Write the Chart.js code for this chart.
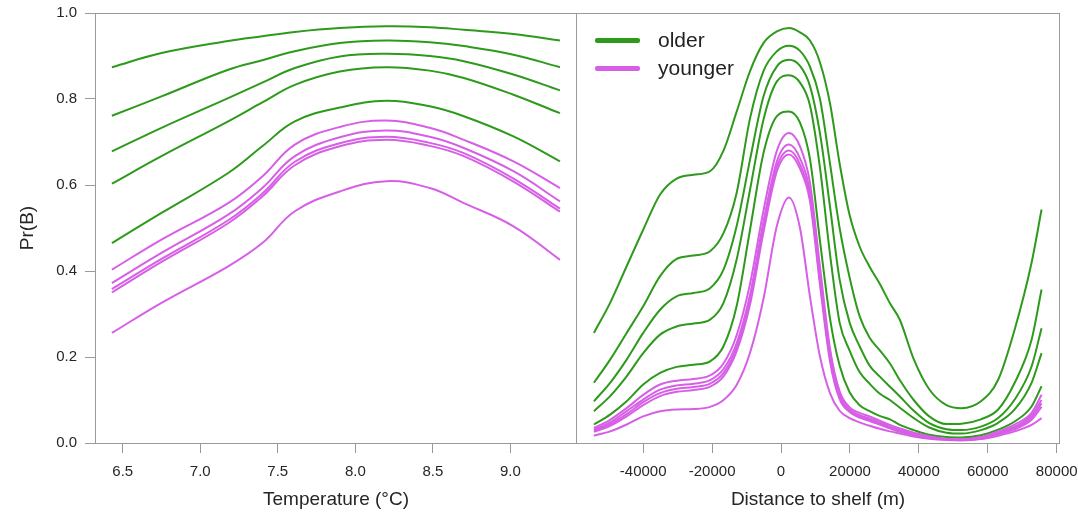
<!DOCTYPE html>
<html>
<head>
<meta charset="utf-8">
<script src="https://cdn.jsdelivr.net/npm/chart.js@4.4.1/dist/chart.umd.min.js"></script>
<style>
  body { margin: 0; background: #fff; font-family: 'Liberation Sans', Arial, sans-serif; }
  #wrap { position: relative; width: 1078px; height: 518px; }
  #c1 { position: absolute; left: 0; top: 0; }
  #c2 { position: absolute; left: 576px; top: 0; }
  #legend { position: absolute; left: 595px; top: 26px; font-size: 21px; color: #222; }
  .row { display: flex; align-items: center; height: 28px; }
  .swatch { width: 45px; height: 5px; border-radius: 2px; margin-right: 18px; }
</style>
</head>
<body>
<div id="wrap">
  <canvas id="c1" width="580" height="518"></canvas>
  <canvas id="c2" width="502" height="518"></canvas>
  <div id="legend"></div>
</div>
<script>
// Dados
const groups = ['older', 'younger'];
const groupColors = ['#2e9a1c', '#d65fe6'];

// marcas dos eixos
const probTicks = [0, 0.2, 0.4, 0.6, 0.8, 1.0];
const tempTicks = [6.5, 7.0, 7.5, 8.0, 8.5, 9.0];
const distTicks = [-40000, -20000, 0, 20000, 40000, 60000, 80000];

// painel esquerdo: temperatura
const tempX = [6.43, 6.75, 7.18, 7.4, 7.61, 7.9, 8.2, 8.48, 8.7, 9.02, 9.32];
const olderTemp = [
  [0.874, 0.907, 0.935, 0.946, 0.956, 0.965, 0.969, 0.967, 0.961, 0.951, 0.936],
  [0.761, 0.806, 0.868, 0.890, 0.911, 0.930, 0.936, 0.932, 0.923, 0.903, 0.874],
  [0.678, 0.733, 0.802, 0.838, 0.872, 0.899, 0.905, 0.900, 0.888, 0.857, 0.820],
  [0.603, 0.667, 0.748, 0.792, 0.833, 0.864, 0.874, 0.866, 0.849, 0.810, 0.767],
  [0.465, 0.535, 0.628, 0.690, 0.748, 0.780, 0.796, 0.783, 0.760, 0.713, 0.655]
];
const youngerTemp = [
  [0.403, 0.473, 0.558, 0.620, 0.694, 0.735, 0.750, 0.733, 0.705, 0.655, 0.593],
  [0.372, 0.442, 0.531, 0.593, 0.667, 0.711, 0.727, 0.712, 0.686, 0.632, 0.562],
  [0.358, 0.428, 0.518, 0.580, 0.654, 0.697, 0.712, 0.698, 0.674, 0.615, 0.545],
  [0.350, 0.421, 0.511, 0.573, 0.646, 0.690, 0.705, 0.691, 0.667, 0.608, 0.538],
  [0.256, 0.326, 0.411, 0.465, 0.539, 0.585, 0.609, 0.593, 0.558, 0.504, 0.426]
];

// painel direito: distância à plataforma
const distX = [-54300, -49600, -44800, -40000, -35100, -30300, -25400, -20600, -16700, -12900,
  -9000, -5100, -1200, 2300, 5500, 8400, 11300, 14200, 17000, 19900,
  22800, 25700, 28600, 31600, 34500, 38500, 43000, 48000, 52400, 58000,
  63000, 67800, 72700, 75600];
const olderDist = [
  [0.256, 0.326, 0.411, 0.496, 0.578, 0.615, 0.624, 0.632, 0.680, 0.770,
   0.865, 0.930, 0.957, 0.965, 0.955, 0.936, 0.885, 0.790, 0.650, 0.530,
   0.457, 0.410, 0.371, 0.325, 0.286, 0.195, 0.125, 0.088, 0.081, 0.097,
   0.147, 0.264, 0.419, 0.543],
  [0.140, 0.194, 0.256, 0.318, 0.388, 0.428, 0.436, 0.446, 0.488, 0.581,
   0.755, 0.865, 0.911, 0.924, 0.912, 0.875, 0.800, 0.650, 0.500, 0.385,
   0.295, 0.245, 0.216, 0.185, 0.146, 0.100, 0.062, 0.044, 0.045, 0.055,
   0.078, 0.140, 0.240, 0.357],
  [0.097, 0.140, 0.194, 0.256, 0.310, 0.341, 0.349, 0.360, 0.403, 0.504,
   0.659, 0.806, 0.876, 0.891, 0.877, 0.830, 0.720, 0.550, 0.380, 0.280,
   0.225, 0.180, 0.155, 0.131, 0.108, 0.075, 0.046, 0.032, 0.030, 0.038,
   0.058, 0.101, 0.178, 0.267],
  [0.074, 0.109, 0.155, 0.209, 0.252, 0.271, 0.278, 0.287, 0.326, 0.426,
   0.589, 0.752, 0.841, 0.855, 0.838, 0.785, 0.640, 0.440, 0.280, 0.215,
   0.165, 0.138, 0.115, 0.100, 0.082, 0.058, 0.036, 0.024, 0.022, 0.030,
   0.047, 0.078, 0.140, 0.209],
  [0.043, 0.066, 0.097, 0.136, 0.163, 0.177, 0.182, 0.190, 0.225, 0.318,
   0.496, 0.674, 0.760, 0.771, 0.745, 0.660, 0.470, 0.290, 0.180, 0.118,
   0.088, 0.074, 0.063, 0.055, 0.042, 0.030, 0.019, 0.014, 0.013, 0.018,
   0.031, 0.050, 0.085, 0.132]
];
const youngerDist = [
  [0.035, 0.054, 0.081, 0.112, 0.136, 0.145, 0.149, 0.157, 0.185, 0.250,
   0.370, 0.540, 0.680, 0.721, 0.690, 0.605, 0.410, 0.220, 0.120, 0.083,
   0.070, 0.062, 0.052, 0.042, 0.034, 0.024, 0.016, 0.010, 0.009, 0.014,
   0.027, 0.043, 0.070, 0.112],
  [0.031, 0.048, 0.074, 0.101, 0.124, 0.134, 0.138, 0.146, 0.172, 0.232,
   0.345, 0.515, 0.655, 0.694, 0.662, 0.585, 0.390, 0.205, 0.112, 0.078,
   0.065, 0.057, 0.048, 0.038, 0.030, 0.021, 0.014, 0.009, 0.008, 0.012,
   0.024, 0.038, 0.064, 0.100],
  [0.029, 0.044, 0.067, 0.095, 0.116, 0.126, 0.130, 0.138, 0.163, 0.222,
   0.333, 0.502, 0.642, 0.680, 0.648, 0.572, 0.378, 0.198, 0.107, 0.075,
   0.062, 0.054, 0.045, 0.036, 0.028, 0.020, 0.013, 0.008, 0.007, 0.011,
   0.022, 0.035, 0.059, 0.092],
  [0.026, 0.040, 0.062, 0.088, 0.109, 0.119, 0.123, 0.131, 0.155, 0.213,
   0.322, 0.490, 0.632, 0.671, 0.638, 0.562, 0.368, 0.190, 0.102, 0.072,
   0.059, 0.051, 0.043, 0.034, 0.026, 0.018, 0.012, 0.008, 0.007, 0.010,
   0.020, 0.032, 0.054, 0.084],
  [0.017, 0.027, 0.043, 0.062, 0.074, 0.078, 0.079, 0.084, 0.100, 0.135,
   0.210, 0.335, 0.505, 0.571, 0.500, 0.340, 0.201, 0.116, 0.075, 0.058,
   0.048, 0.040, 0.033, 0.027, 0.022, 0.015, 0.010, 0.007, 0.006, 0.009,
   0.017, 0.027, 0.042, 0.058]
];

const frameColor = '#9a9a9a';
const textColor = '#262626';
const fontFamily = "'Liberation Sans', Arial, sans-serif";

// moldura em volta da área do gráfico
const framePlugin = {
  id: 'frame',
  afterDatasetsDraw(chart) {
    const a = chart.chartArea;
    const ctx = chart.ctx;
    ctx.save();
    ctx.strokeStyle = frameColor;
    ctx.lineWidth = 1;
    ctx.strokeRect(Math.round(a.left) + 0.5, Math.round(a.top) + 0.5,
      Math.round(a.right - a.left) - 1, Math.round(a.bottom - a.top));
    ctx.restore();
  }
};

function montarSeries(xs, olderRows, youngerRows) {
  const sets = [];
  youngerRows.forEach(r => sets.push({
    label: groups[1],
    data: xs.map((x, i) => ({ x: x, y: r[i] })),
    borderColor: groupColors[1]
  }));
  olderRows.forEach(r => sets.push({
    label: groups[0],
    data: xs.map((x, i) => ({ x: x, y: r[i] })),
    borderColor: groupColors[0]
  }));
  return sets;
}

function eixoX(min, max, marcas, titulo, fmt) {
  return {
    type: 'linear',
    min: min,
    max: max,
    border: { display: false },
    grid: { drawOnChartArea: false, tickLength: 10, color: frameColor },
    afterBuildTicks(scale) {
      scale.ticks = marcas.map(v => ({ value: v }));
    },
    ticks: {
      autoSkip: false,
      padding: 10,
      color: textColor,
      font: { family: fontFamily, size: 15 },
      maxRotation: 0,
      callback: fmt
    },
    title: {
      display: true,
      text: titulo,
      color: textColor,
      font: { family: fontFamily, size: 19 },
      padding: { top: 0, bottom: 7 }
    },
    afterFit(scale) {
      scale.height = 75;
      scale.paddingLeft = 0;
      scale.paddingRight = 0;
    }
  };
}

function opcoesBase(xScale, yScale, padRight, modo) {
  return {
    responsive: false,
    animation: false,
    events: [],
    layout: { padding: { top: 13, right: padRight, left: 0, bottom: 0 } },
    elements: {
      point: { radius: 0 },
      line: { borderWidth: 2, tension: 0.4, cubicInterpolationMode: modo, fill: false }
    },
    plugins: { legend: { display: false }, tooltip: { enabled: false } },
    scales: { x: xScale, y: yScale }
  };
}

// painel da temperatura
new Chart(document.getElementById('c1'), {
  type: 'line',
  data: { datasets: montarSeries(tempX, olderTemp, youngerTemp) },
  options: opcoesBase(
    eixoX(6.321, 9.430, tempTicks, 'Temperature (°C)', v => v.toFixed(1)),
    {
      type: 'linear',
      min: 0,
      max: 1,
      border: { display: false },
      grid: { drawOnChartArea: false, tickLength: 10, color: frameColor },
      afterBuildTicks(scale) {
        scale.ticks = probTicks.map(v => ({ value: v }));
      },
      ticks: {
        autoSkip: false,
        padding: 8,
        color: textColor,
        font: { family: fontFamily, size: 15 },
        callback: v => v.toFixed(1)
      },
      title: {
        display: true,
        text: 'Pr(B)',
        color: textColor,
        font: { family: fontFamily, size: 19 },
        padding: { top: 16, bottom: 0 }
      },
      afterFit(scale) {
        scale.width = 95;
        scale.paddingTop = 0;
        scale.paddingBottom = 0;
      }
    },
    3,
    'default'
  ),
  plugins: [framePlugin]
});

// painel da distância
new Chart(document.getElementById('c2'), {
  type: 'line',
  data: { datasets: montarSeries(distX, olderDist, youngerDist) },
  options: opcoesBase(
    eixoX(-59500, 80950, distTicks, 'Distance to shelf (m)', v => String(v)),
    { type: 'linear', min: 0, max: 1, display: false },
    18,
    'monotone'
  ),
  plugins: [framePlugin]
});

// legenda
const legenda = document.getElementById('legend');
groups.forEach((g, i) => {
  const row = document.createElement('div');
  row.className = 'row';
  const sw = document.createElement('span');
  sw.className = 'swatch';
  sw.style.background = groupColors[i];
  const txt = document.createElement('span');
  txt.textContent = g;
  row.appendChild(sw);
  row.appendChild(txt);
  legenda.appendChild(row);
});
</script>
</body>
</html>
